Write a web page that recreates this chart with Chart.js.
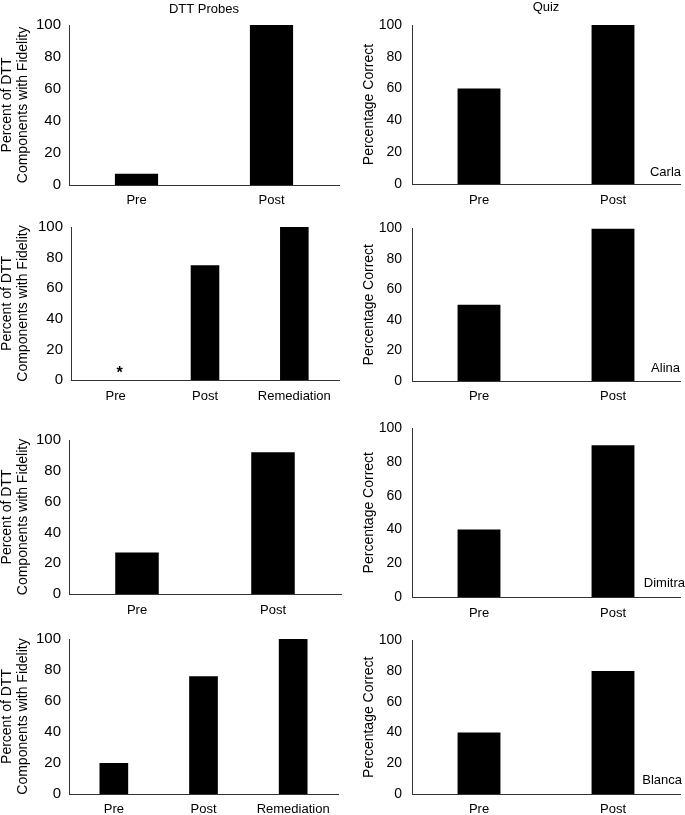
<!DOCTYPE html>
<html>
<head>
<meta charset="utf-8">
<script src="https://cdn.jsdelivr.net/npm/chart.js@4.4.0/dist/chart.umd.min.js"></script>
<style>
  html, body { margin: 0; padding: 0; background: #fff; overflow: hidden; }
  body { width: 685px; height: 815px; position: relative; }
  canvas { position: absolute; }
</style>
</head>
<body>
<script>
const probeLabels2 = ['Pre', 'Post'];
const probeLabels3 = ['Pre', 'Post', 'Remediation'];
const quizLabels = ['Pre', 'Post'];
const participants = ['Carla', 'Alina', 'Dimitra', 'Blanca'];

const carlaProbe = [7, 100];
const alinaProbe = [0, 75, 100];
const dimitraProbe = [27, 92];
const blancaProbe = [20, 76, 100];
const alinaProbeMarks = ['*', '', ''];

const carlaQuiz = [60, 100];
const alinaQuiz = [50, 100];
const dimitraQuiz = [40, 90];
const blancaQuiz = [40, 80];

const FONT = "'Liberation Sans', Arial, sans-serif";
const probeTitle = ['Percent of DTT', 'Components with Fidelity'];
const quizTitle = 'Percentage Correct';

// draws participant name and the asterisk for missing data
const notesPlugin = {
  id: 'notes',
  afterDatasetsDraw(chart, args, opts) {
    const ctx = chart.ctx;
    const area = chart.chartArea;
    ctx.save();
    ctx.fillStyle = '#000';
    if (opts.name) {
      ctx.font = '13px ' + FONT;
      ctx.textAlign = 'right';
      ctx.textBaseline = 'middle';
      ctx.fillText(opts.name, area.right + opts.nameDx, area.bottom - opts.nameDy);
    }
    if (opts.marks) {
      const xs = chart.scales.x, ys = chart.scales.y;
      ctx.font = 'bold 16px ' + FONT;
      ctx.textAlign = 'center';
      ctx.textBaseline = 'alphabetic';
      opts.marks.forEach((m, i) => {
        if (m) ctx.fillText(m, xs.getPixelForValue(i) + 4, ys.getPixelForValue(0) - 2);
      });
    }
    ctx.restore();
  }
};

const panels = [
  { labels: probeLabels2, values: carlaProbe, yTitle: probeTitle, title: 'DTT Probes', titleTop: 2,
    left: 0, top: 0, width: 340, height: 215, axisW: 69, padTop: 0, padRight: 1, tickSize: 15, tickPad: 8, xPad: 8 },
  { labels: quizLabels, values: carlaQuiz, yTitle: quizTitle, title: 'Quiz', titleTop: 0, name: participants[0], nameDx: 1, nameDy: 12,
    left: 340, top: 0, width: 345, height: 214, axisW: 72, padTop: 0, padRight: 5, tickSize: 14, tickPad: 10, xPad: 9 },
  { labels: probeLabels3, values: alinaProbe, yTitle: probeTitle, marks: alinaProbeMarks,
    left: 0, top: 210, width: 340, height: 200, axisW: 71, padTop: 12, padRight: 1, tickSize: 15, tickPad: 8, xPad: 9 },
  { labels: quizLabels, values: alinaQuiz, yTitle: quizTitle, name: participants[1], nameDx: 0, nameDy: 13,
    left: 340, top: 210, width: 345, height: 201, axisW: 72, padTop: 12, padRight: 5, tickSize: 14, tickPad: 10, xPad: 8 },
  { labels: probeLabels2, values: dimitraProbe, yTitle: probeTitle,
    left: 0, top: 423, width: 342, height: 201, axisW: 69, padTop: 12, padRight: 1, tickSize: 15, tickPad: 8, xPad: 9 },
  { labels: quizLabels, values: dimitraQuiz, yTitle: quizTitle, name: participants[2], nameDx: 5, nameDy: 14,
    left: 340, top: 410, width: 345, height: 217, axisW: 72, padTop: 12, padRight: 5, tickSize: 14, tickPad: 10, xPad: 9 },
  { labels: probeLabels3, values: blancaProbe, yTitle: probeTitle,
    left: 0, top: 622, width: 339, height: 202, axisW: 69, padTop: 12, padRight: 1, tickSize: 15, tickPad: 8, xPad: 8 },
  { labels: quizLabels, values: blancaQuiz, yTitle: quizTitle, name: participants[3], nameDx: 2, nameDy: 14,
    left: 340, top: 622, width: 345, height: 202, axisW: 72, padTop: 12, padRight: 5, tickSize: 14, tickPad: 10, xPad: 8 }
];

panels.forEach(p => {
  const canvas = document.createElement('canvas');
  canvas.width = p.width;
  canvas.height = p.height;
  canvas.style.left = p.left + 'px';
  canvas.style.top = p.top + 'px';
  canvas.style.width = p.width + 'px';
  canvas.style.height = p.height + 'px';
  document.body.appendChild(canvas);

  const isProbe = Array.isArray(p.yTitle);

  new Chart(canvas.getContext('2d'), {
    type: 'bar',
    data: {
      labels: p.labels,
      datasets: [{
        data: p.values,
        backgroundColor: '#000',
        borderWidth: 0,
        barPercentage: 0.32,
        categoryPercentage: 1
      }]
    },
    plugins: [notesPlugin],
    options: {
      responsive: false,
      animation: false,
      devicePixelRatio: 1,
      layout: { padding: { top: p.padTop, right: p.padRight, left: 0, bottom: 0 } },
      plugins: {
        legend: { display: false },
        tooltip: { enabled: false },
        title: {
          display: !!p.title,
          text: p.title || '',
          fullSize: false,
          color: '#000',
          font: { family: FONT, size: 13, weight: 'normal' },
          padding: { top: p.titleTop || 0, bottom: 25 - 15.6 - (p.titleTop || 0) }
        },
        notes: { name: p.name, nameDx: p.nameDx, nameDy: p.nameDy, marks: p.marks }
      },
      scales: {
        x: {
          grid: { display: false, drawTicks: false },
          border: { color: '#333', width: 1 },
          ticks: { color: '#000', padding: p.xPad, font: { family: FONT, size: 13 } },
          afterFit: s => { s.height = 30; }
        },
        y: {
          min: 0,
          max: 100,
          grid: { display: false, drawTicks: false },
          border: { color: '#333', width: 1 },
          ticks: { stepSize: 20, color: '#000', padding: p.tickPad, font: { family: FONT, size: p.tickSize } },
          title: {
            display: true,
            text: p.yTitle,
            color: '#000',
            font: { family: FONT, size: 14, lineHeight: 1.15 },
            padding: { top: isProbe ? -1 : 21, bottom: 0 }
          },
          afterFit: s => { s.width = p.axisW; }
        }
      }
    }
  });
});
</script>
</body>
</html>
